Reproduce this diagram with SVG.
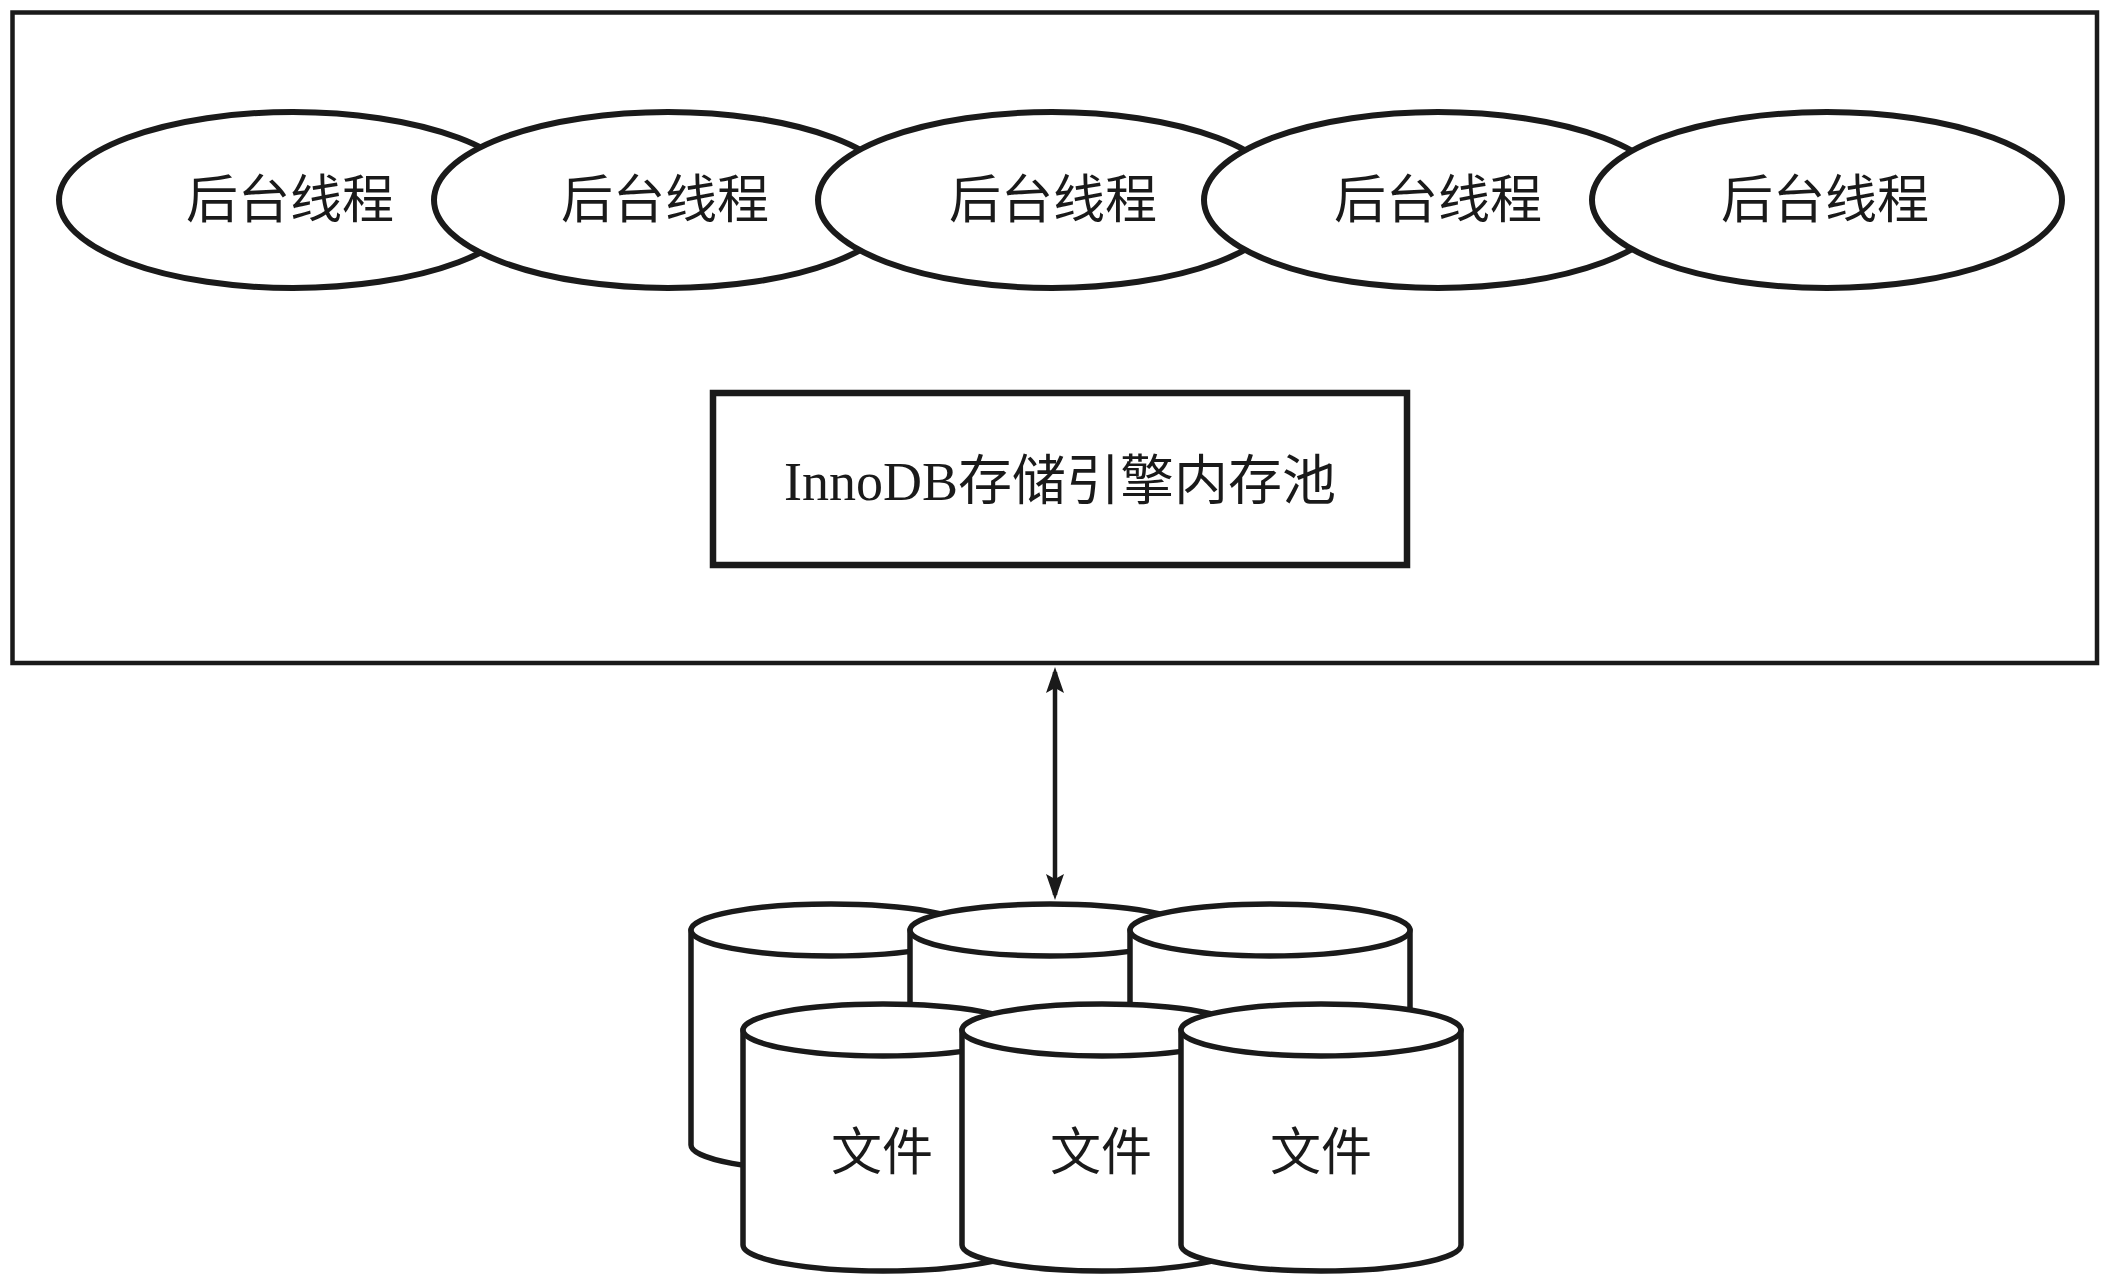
<svg xmlns="http://www.w3.org/2000/svg" xmlns:xlink="http://www.w3.org/1999/xlink" width="2114" height="1280" viewBox="0 0 2114 1280">
<style>
.frame{fill:#fff;stroke:#1a1a1a;stroke-width:4.5}
.th{fill:#fff;stroke:#1a1a1a;stroke-width:6}
.box{fill:#fff;stroke:#1a1a1a;stroke-width:6.5}
.cyl{fill:#fff;stroke:#1a1a1a;stroke-width:5.5;stroke-linejoin:round}
.conn{stroke:#1a1a1a;stroke-width:4.5;fill:none}
.cn{font-family:"Noto Sans CJK SC","Noto Sans CJK JP",sans-serif;fill:#1a1a1a;text-anchor:middle}
.mix{font-family:"Liberation Serif","Noto Sans CJK SC",serif;fill:#1a1a1a;text-anchor:middle}
</style>
<defs>
<marker id="ah" viewBox="0 0 26 18" refX="21" refY="9" markerWidth="26" markerHeight="18" markerUnits="userSpaceOnUse" orient="auto-start-reverse">
<path d="M0,0 L26,9 L0,18 L5,9 Z" fill="#1a1a1a"/>
</marker>
<g id="cylshape">
<path d="M0,0 V215 A140,26 0 0 0 280,215 V0 Z"/>
<ellipse cx="140" cy="0" rx="140" ry="26"/>
</g>
</defs>
<rect width="2114" height="1280" fill="#fff"/>
<g id="frame"><rect class="frame" x="12.5" y="12.5" width="2084.5" height="650.5"/></g>
<g id="thread1"><ellipse class="th" cx="293" cy="200" rx="234" ry="88"/><text class="cn" x="290" y="218" font-size="52">后台线程</text></g>
<g id="thread2"><ellipse class="th" cx="668" cy="200" rx="234" ry="88"/><text class="cn" x="665" y="218" font-size="52">后台线程</text></g>
<g id="thread3"><ellipse class="th" cx="1052" cy="200" rx="234" ry="88"/><text class="cn" x="1053" y="218" font-size="52">后台线程</text></g>
<g id="thread4"><ellipse class="th" cx="1438" cy="200" rx="234" ry="88"/><text class="cn" x="1438" y="218" font-size="52">后台线程</text></g>
<g id="thread5"><ellipse class="th" cx="1827" cy="200" rx="235" ry="88"/><text class="cn" x="1825" y="218" font-size="52">后台线程</text></g>
<g id="bufferpool"><rect class="box" x="713" y="393" width="694" height="172"/><text class="mix" x="1060" y="500" font-size="54">InnoDB存储引擎内存池</text></g>
<g id="connectors"><line class="conn" x1="1055" y1="672" x2="1055" y2="895" marker-start="url(#ah)" marker-end="url(#ah)"/></g>
<g id="file-back-left" class="cyl"><use xlink:href="#cylshape" href="#cylshape" x="691" y="930"/></g>
<g id="file-back-middle" class="cyl"><use xlink:href="#cylshape" href="#cylshape" x="910" y="930"/></g>
<g id="file-back-right" class="cyl"><use xlink:href="#cylshape" href="#cylshape" x="1130" y="930"/></g>
<g id="file-front-left" class="cyl"><use xlink:href="#cylshape" href="#cylshape" x="743" y="1030"/><text class="cn" x="882" y="1170" font-size="51" stroke="none">文件</text></g>
<g id="file-front-middle" class="cyl"><use xlink:href="#cylshape" href="#cylshape" x="962" y="1030"/><text class="cn" x="1101" y="1170" font-size="51" stroke="none">文件</text></g>
<g id="file-front-right" class="cyl"><use xlink:href="#cylshape" href="#cylshape" x="1181" y="1030"/><text class="cn" x="1321" y="1170" font-size="51" stroke="none">文件</text></g>
</svg>
